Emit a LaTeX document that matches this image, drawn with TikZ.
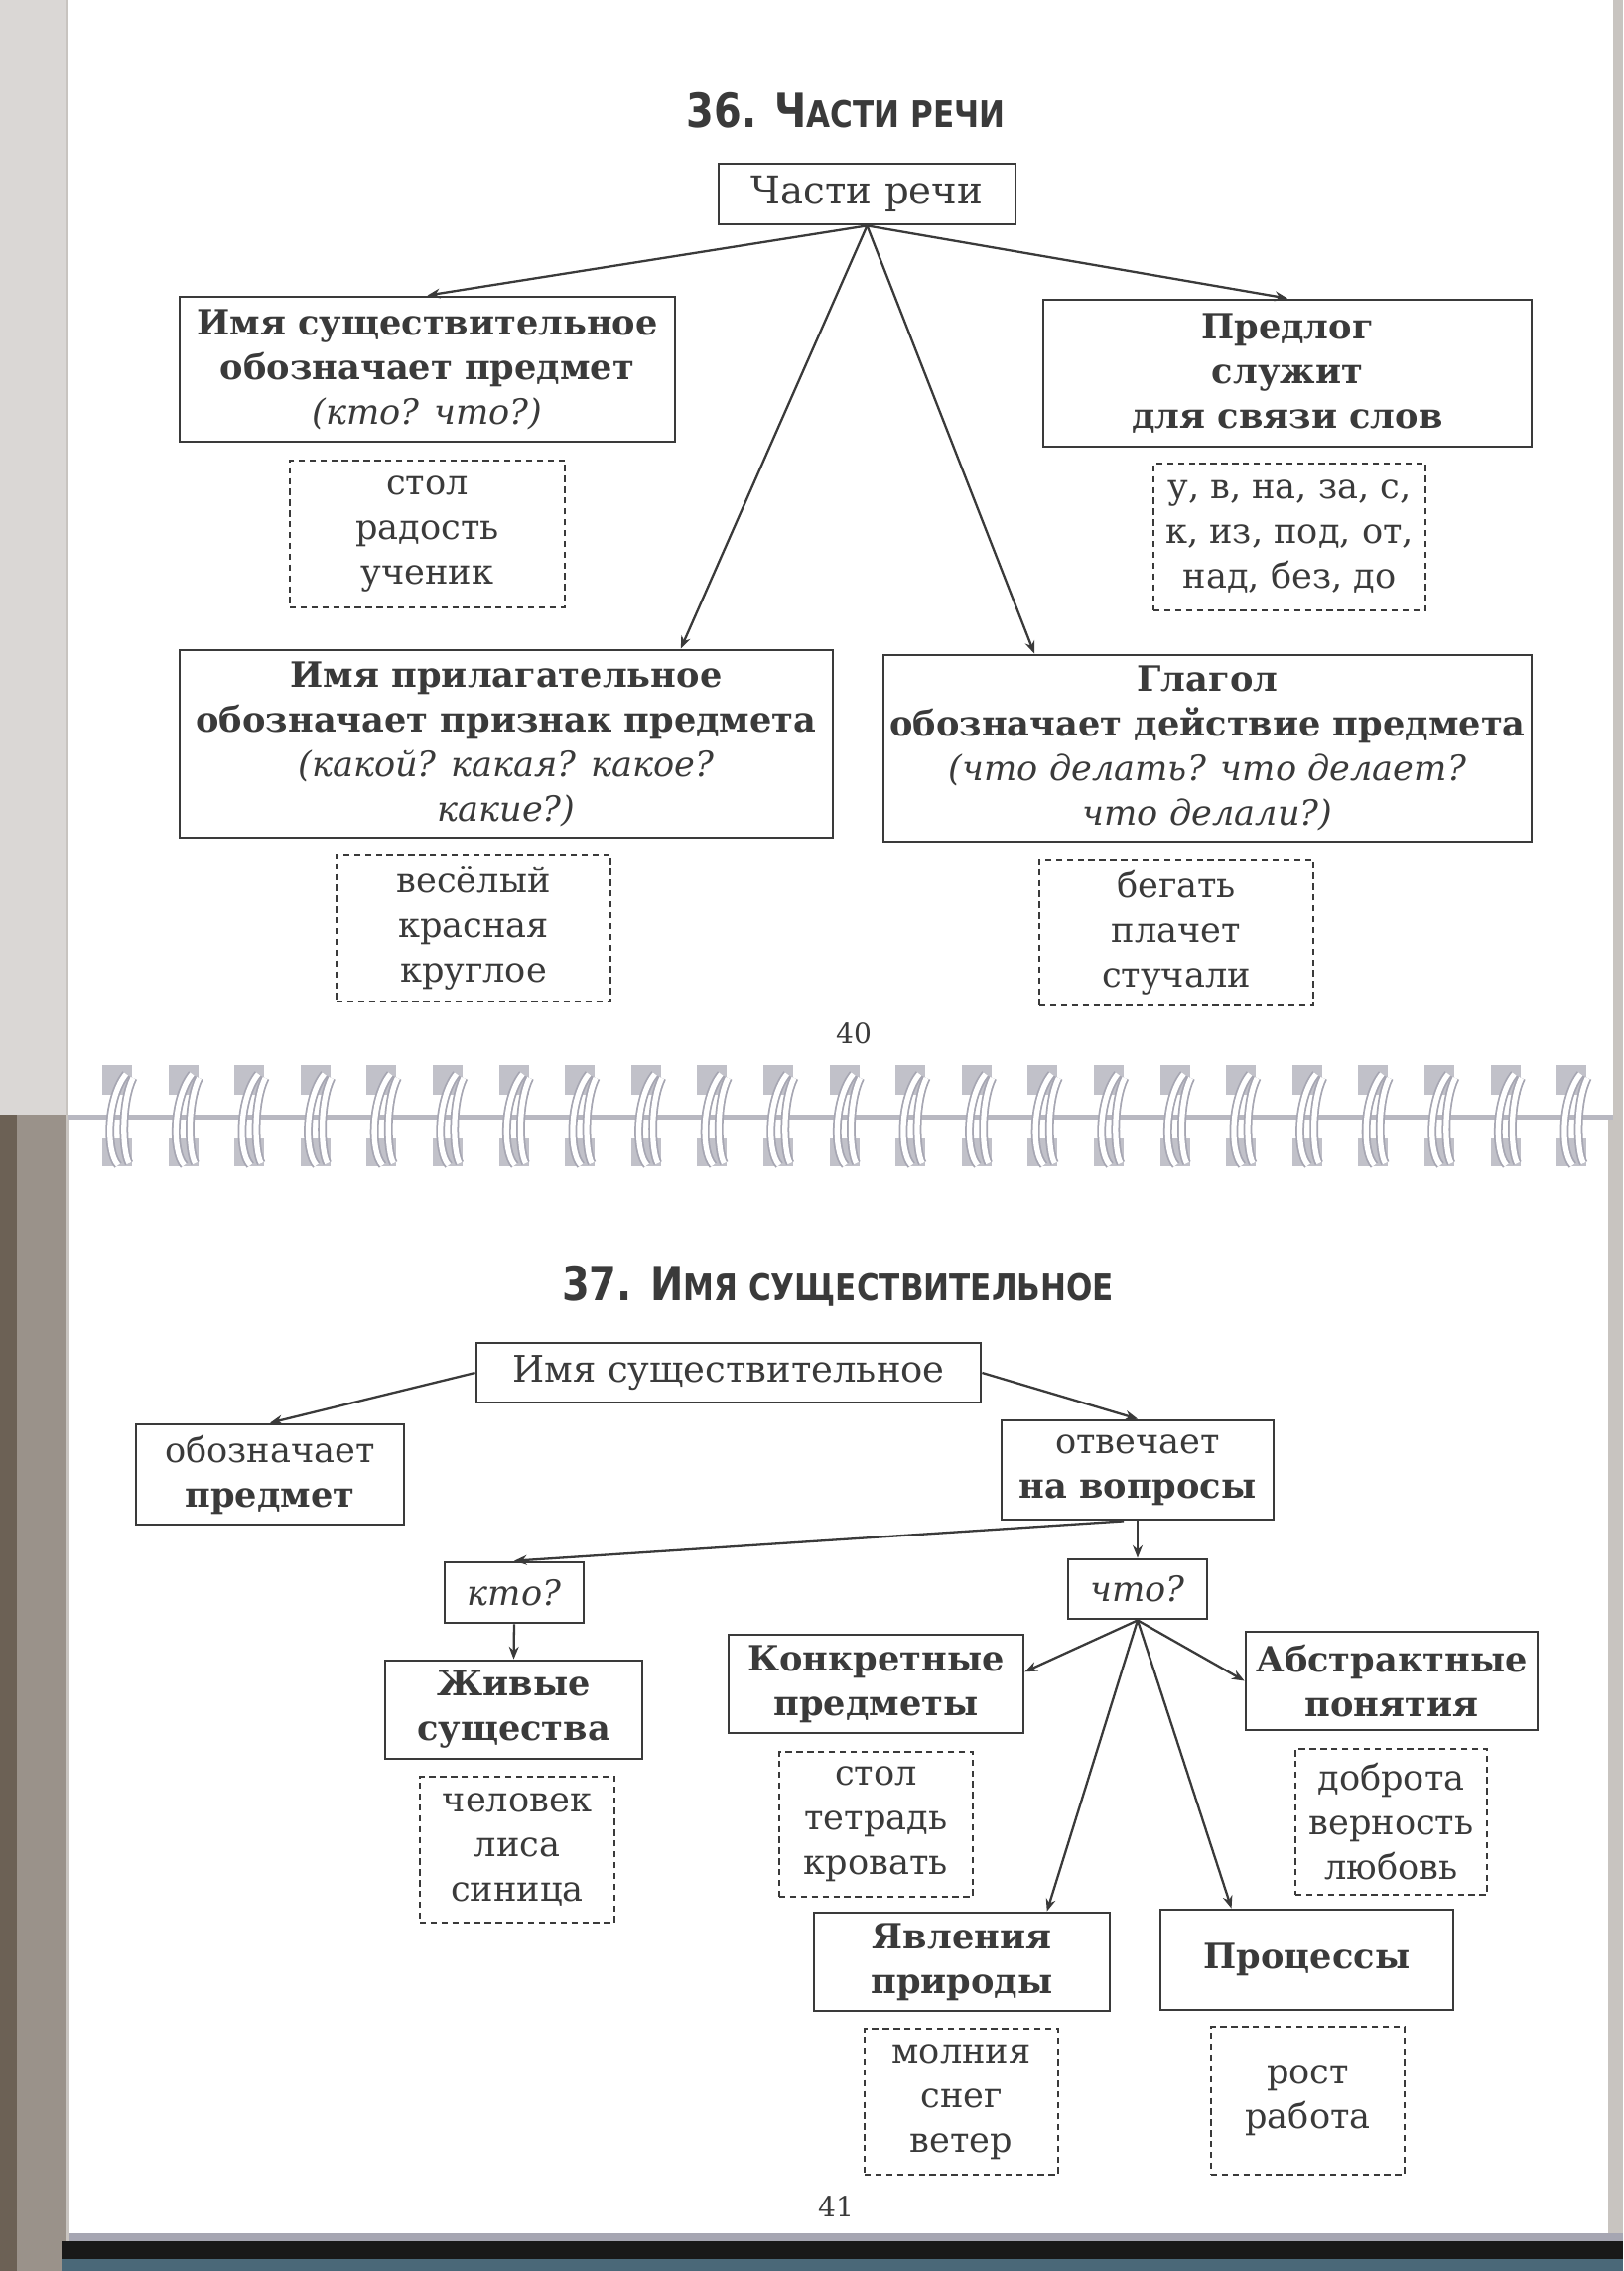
\documentclass[tikz,border=0pt]{standalone}
\usepackage{fontspec}
\setmainfont{DejaVu Serif}
\newfontfamily\headfont[FakeStretch=0.84]{DejaVu Sans}
\usetikzlibrary{arrows.meta,calc}
\definecolor{ink}{HTML}{3A3A3A}
\definecolor{edge}{HTML}{A39C95}
\definecolor{ring}{HTML}{A6A6B2}
\newcommand{\heading}[2]{{\headfont\bfseries\fontsize{13.5}{14}\selectfont #1\fontsize{10.5}{14}\selectfont #2}}

\tikzset{
  box/.style={draw=ink, line width=0.8pt, inner sep=0pt, align=center, text=ink,
    font=\fontsize{10}{12.8}\selectfont},
  exbox/.style={box, line width=0.6pt, dash pattern=on 1.8pt off 1.3pt},
  boxsize/.style 2 args={minimum width=#1*0.01cm, minimum height=#2*0.01cm},
  link/.style={draw=ink, line width=0.65pt, -{Stealth[length=3.6pt,width=2.8pt]}},
  hole/.style={fill=ring!70},
  wire/.style={draw=ring, line width=0.5pt, double=white, double distance=1.5pt},
  pagenum/.style={text=ink, font=\fontsize{8}{8}\selectfont},
}

\begin{document}
\begin{tikzpicture}[x=0.01cm,y=-0.01cm]
  \useasboundingbox (0,0) rectangle (1635,2288);
  % scan background and the two pages
  \fill[edge!60] (0,0) rectangle (1635,2288);
  \fill[edge!40] (0,0) rectangle (66,1123);
  \fill[edge!110] (0,1123) rectangle (66,2288);
  \fill[edge!160] (0,1123) rectangle (17,2288);
  \fill[white] (68,0) rectangle (1625,1123);
  \fill[ring!80] (68,1123) rectangle (1625,1128);
  \fill[white] (70,1128) rectangle (1620,2250);
  \fill[ring] (70,2250) rectangle (1635,2258);
  \fill[black!90] (62,2258) rectangle (1635,2276);
  \fill[cyan!40!black] (62,2276) rectangle (1635,2288);

  % spiral binding
  \foreach \i in {0,...,22}{
    \pgfmathsetmacro{\hx}{103+66.6*\i}
    \fill[hole] (\hx,1073) rectangle ++(30,30);
    \fill[hole] (\hx,1147) rectangle ++(30,28);
    \draw[wire] (\hx+24,1082) .. controls (\hx+5,1105) and (\hx+3,1160) .. (\hx+16,1174);
    \draw[wire] (\hx+31,1086) .. controls (\hx+19,1110) and (\hx+20,1160) .. (\hx+27,1172);
  }

  % page 40
  \node[text=ink] (title36) at (852,111) {\heading{36. Ч}{АСТИ РЕЧИ}};
  \node[box, boxsize={299}{61}, font=\fontsize{11}{13}\selectfont] (parts) at (873.5,195.5) {Части речи};
  \node[box, boxsize={499}{146}] (noun) at (430.5,372)
    {\textbf{Имя существительное}\\ \textbf{обозначает предмет}\\ \textit{(кто? что?)}};
  \node[exbox, boxsize={277}{148}] (nounex) at (430.5,538) {стол\\ радость\\ ученик};
  \node[box, boxsize={492}{148}] (prep) at (1297,376)
    {\textbf{Предлог}\\ \textbf{служит}\\ \textbf{для связи слов}};
  \node[exbox, boxsize={274}{148}] (prepex) at (1299,541) {у, в, на, за, с,\\ к, из, под, от,\\ над, без, до};
  \node[box, boxsize={658}{189}] (adj) at (510,749.5)
    {\textbf{Имя прилагательное}\\ \textbf{обозначает признак предмета}\\ \textit{(какой? какая? какое?}\\ \textit{какие?)}};
  \node[exbox, boxsize={276}{148}] (adjex) at (477,935) {весёлый\\ красная\\ круглое};
  \node[box, boxsize={653}{188}] (verb) at (1216.5,754)
    {\textbf{Глагол}\\ \textbf{обозначает действие предмета}\\ \textit{(что делать? что делает?}\\ \textit{что делали?)}};
  \node[exbox, boxsize={276}{147}] (verbex) at (1185,939.5) {бегать\\ плачет\\ стучали};
  \node[pagenum] (p40) at (860,1041) {40};

  \draw[link] (parts.south) -- (noun.north);
  \draw[link] (parts.south) -- (prep.north);
  \draw[link] (parts.south) -- ($(adj.north west)!0.766!(adj.north east)$);
  \draw[link] (parts.south) -- ($(verb.north west)!0.234!(verb.north east)$);

  % page 41
  \node[text=ink] (title37) at (844,1296) {\heading{37. И}{МЯ СУЩЕСТВИТЕЛЬНОЕ}};
  \node[box, boxsize={508}{60}, font=\fontsize{10.5}{13}\selectfont] (ns) at (734,1383) {Имя существительное};
  \node[box, boxsize={270}{101}] (den) at (272,1485.5) {обозначает\\ \textbf{предмет}};
  \node[box, boxsize={274}{100}] (ans) at (1146,1481) {отвечает\\ \textbf{на вопросы}};
  \node[box, boxsize={140}{61}] (who) at (518,1604.5) {\textit{кто?}};
  \node[box, boxsize={140}{60}] (what) at (1146,1601) {\textit{что?}};
  \node[box, boxsize={259}{99}] (alive) at (517.5,1722.5) {\textbf{Живые}\\ \textbf{существа}};
  \node[exbox, boxsize={196}{147}] (aliveex) at (521,1863.5) {человек\\ лиса\\ синица};
  \node[box, boxsize={297}{99}] (concr) at (882.5,1696.5) {\textbf{Конкретные}\\ \textbf{предметы}};
  \node[exbox, boxsize={195}{146}] (concrex) at (882.5,1838) {стол\\ тетрадь\\ кровать};
  \node[box, boxsize={294}{99}] (abstr) at (1402,1693.5) {\textbf{Абстрактные}\\ \textbf{понятия}};
  \node[exbox, boxsize={193}{147}] (abstrex) at (1401.5,1835.5) {доброта\\ верность\\ любовь};
  \node[box, boxsize={298}{99}] (nat) at (969,1976.5) {\textbf{Явления}\\ \textbf{природы}};
  \node[exbox, boxsize={195}{147}] (natex) at (968.5,2117.5) {молния\\ снег\\ ветер};
  \node[box, boxsize={295}{101}] (proc) at (1316.5,1974.5) {\textbf{Процессы}};
  \node[exbox, boxsize={195}{149}] (procex) at (1317.5,2116.5) {рост\\ работа};
  \node[pagenum] (p41) at (842,2223) {41};

  \draw[link] (ns.west) -- (den.north);
  \draw[link] (ns.east) -- (ans.north);
  \draw[link] ($(ans.south west)!0.45!(ans.south east)$) -- (who.north);
  \draw[link] (ans.south) -- (what.north);
  \draw[link] (who.south) -- (alive.north);
  \draw[link] (what.south) -- ($(concr.north east)!0.38!(concr.south east)$);
  \draw[link] (what.south) -- (abstr.west);
  \draw[link] (what.south) -- ($(nat.north west)!0.785!(nat.north east)$);
  \draw[link] (what.south) -- ($(proc.north west)!0.245!(proc.north east)$);
\end{tikzpicture}
\end{document}
